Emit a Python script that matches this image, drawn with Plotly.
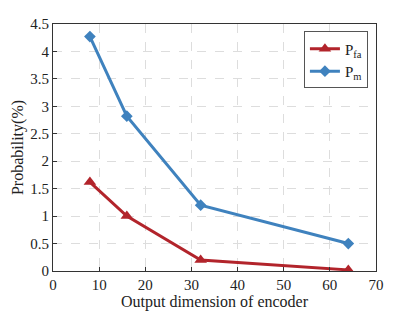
import plotly.graph_objects as go

x_vals = [8, 16, 32, 64]
p_fa = [1.62, 1.0, 0.2, 0.02]
p_m = [4.27, 2.82, 1.2, 0.5]

red = "#B2242B"
blue = "#3F82BE"
font = "Liberation Serif"

fig = go.Figure()
fig.add_trace(go.Scatter(x=x_vals, y=p_fa, mode="lines+markers", name="P<sub>fa</sub>",
                         line=dict(color=red, width=3),
                         marker=dict(symbol="triangle-up", size=11, color=red)))
fig.add_trace(go.Scatter(x=x_vals, y=p_m, mode="lines+markers", name="P<sub>m</sub>",
                         line=dict(color=blue, width=3),
                         marker=dict(symbol="diamond", size=9, color=blue)))

axis_common = dict(showline=True, linecolor="#333", linewidth=1, mirror=True,
                   ticks="inside", ticklen=4, tickcolor="#333",
                   showgrid=True, gridcolor="#DDDDDD", griddash="dash", gridwidth=1,
                   zeroline=False, automargin=False,
                   tickfont=dict(family=font, size=15, color="#222"))

# page body adds an 8px offset; size figure to fit the window
fig.update_layout(
    width=407, height=305,
    margin=dict(l=45, r=39, t=16, b=42),
    paper_bgcolor="white", plot_bgcolor="white",
    font=dict(family=font, size=15, color="#222"),
    xaxis=dict(range=[0, 70], dtick=10,
               title=dict(text="Output dimension of encoder", font=dict(family=font, size=16), standoff=2),
               **axis_common),
    yaxis=dict(range=[0, 4.5], dtick=0.5,
               title=dict(text="Probability(%)", font=dict(family=font, size=16), standoff=2),
               **axis_common),
    legend=dict(x=0.975, y=0.97, xanchor="right", yanchor="top",
                bgcolor="white", bordercolor="#555", borderwidth=1,
                font=dict(family=font, size=15), tracegroupgap=0, itemwidth=30),
    showlegend=True,
)

fig.write_html("out.html")
